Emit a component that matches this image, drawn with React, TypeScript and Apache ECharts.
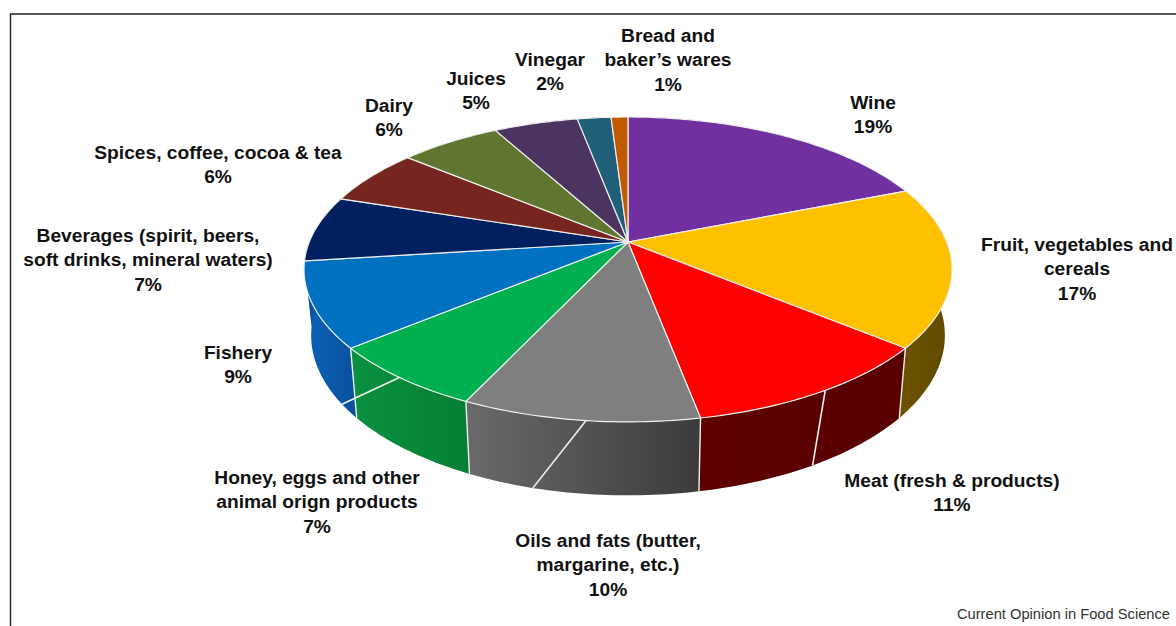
import React, { useEffect, useRef } from "react";
import * as echarts from "echarts";

// Share of each food sector, percent, clockwise from twelve o'clock.
const sectors = [
  "Wine",
  "Fruit, vegetables and\ncereals",
  "Meat (fresh & products)",
  "Oils and fats (butter,\nmargarine, etc.)",
  "Honey, eggs and other\nanimal orign products",
  "Fishery",
  "Beverages (spirit, beers,\nsoft drinks, mineral waters)",
  "Spices, coffee, cocoa & tea",
  "Dairy",
  "Juices",
  "Vinegar",
  "Bread and\nbaker\u2019s wares",
];
const shares = [19, 17, 11, 10, 7, 9, 7, 6, 6, 5, 2, 1];

const faceColors = [
  "#7030a0", "#ffc000", "#ff0000", "#7f7f7f", "#00b050", "#0070c0",
  "#002060", "#772520", "#5f7530", "#4b3460", "#215f78", "#c05a00",
];
// Left and right shade of each slice's rim.
const rimColors = [
  ["#3a1a55", "#3a1a55"], ["#6e5300", "#5f4a00"], ["#5e0000", "#580000"],
  ["#6a6a6a", "#3b3b3b"], ["#0a9040", "#057f33"], ["#0b62b8", "#0a4f9c"],
  ["#0a4f9c", "#0b5cad"], ["#401310", "#401310"], ["#36421a", "#36421a"],
  ["#2a1d36", "#2a1d36"], ["#123644", "#123644"], ["#6d3300", "#6d3300"],
];
// Label centres in page pixels, taken at the middle of the first line.
const labelCentres = [
  [873, 102], [1077, 244], [952, 480], [608, 540], [317, 477], [238, 352],
  [148, 235], [218, 152], [389, 105], [476, 78], [550, 59], [668, 35],
];
// Stray seams across the rim: angle on the top edge, angle on the bottom edge.
const rimSeams = [
  [148.4, 150],
  [186.2, 194.6],
  [218, 235.5],
];

// Perspective view of the disc.
const APEX_X = 628;
const APEX_Y = 242;
const RADIUS_X = 318.7;
const RADIUS_Y = 147.5;
const TILT = 0.18;
const BASE_SCALE_X = 0.978;
const BASE_SCALE_Y = 1.05;
const BASE_DROP = 64.5;
const LINE = "#eef0ee";

function topOffset(deg: number) {
  const t = (deg * Math.PI) / 180;
  const w = 1 + TILT * Math.cos(t);
  return [(RADIUS_X * Math.sin(t)) / w, (-RADIUS_Y * Math.cos(t)) / w];
}
function topPoint(deg: number) {
  const [x, y] = topOffset(deg);
  return [APEX_X + x, APEX_Y + y];
}
function basePoint(deg: number) {
  const [x, y] = topOffset(deg);
  return [APEX_X + x * BASE_SCALE_X, APEX_Y + BASE_DROP + y * BASE_SCALE_Y];
}
function arc(from: number, to: number, at: (d: number) => number[]) {
  const steps = Math.max(4, Math.ceil(to - from));
  const pts: number[][] = [];
  for (let i = 0; i <= steps; i++) pts.push(at(from + ((to - from) * i) / steps));
  return pts;
}

const total = shares.reduce((a, b) => a + b, 0);
function sliceRange(index: number) {
  const before = shares.slice(0, index).reduce((a, b) => a + b, 0);
  return [(before / total) * 360, ((before + shares[index]) / total) * 360];
}

function renderRim(params: any) {
  const i = params.dataIndex;
  const [from, to] = sliceRange(i);
  const [left, right] = rimColors[i];
  return {
    type: "polygon",
    shape: { points: [...arc(from, to, topPoint), ...arc(from, to, basePoint).reverse()] },
    style: {
      fill: {
        type: "linear", x: 0, y: 0, x2: 1, y2: 0,
        colorStops: [{ offset: 0, color: left }, { offset: 1, color: right }],
      },
    },
  };
}

function renderEdges(params: any) {
  const i = params.dataIndex;
  const [, to] = sliceRange(i);
  if (to < 100 || to > 240) return { type: "group", children: [] };
  const [x1, y1] = topPoint(to);
  const [x2, y2] = basePoint(to);
  return {
    type: "line",
    shape: { x1, y1, x2, y2 },
    style: { stroke: LINE, lineWidth: 1.4 },
  };
}

function renderFace(params: any) {
  const i = params.dataIndex;
  const [from, to] = sliceRange(i);
  return {
    type: "polygon",
    shape: { points: [[APEX_X, APEX_Y], ...arc(from, to, topPoint)] },
    style: { fill: faceColors[i], stroke: LINE, lineWidth: 1.2, lineJoin: "round" },
  };
}

function renderSeam(params: any, api: any) {
  const [x1, y1] = topPoint(api.value(0));
  const [x2, y2] = basePoint(api.value(1));
  return {
    type: "line",
    shape: { x1, y1, x2, y2 },
    style: { stroke: LINE, lineWidth: 1.6 },
  };
}

const LABEL_FONT = '600 19.2px "Liberation Sans", Arial, sans-serif';

export default function App() {
  const ref = useRef<HTMLDivElement>(null);
  useEffect(() => {
    document.body.style.margin = "0";
    const chart = echarts.init(ref.current!, null, { renderer: "svg" });
    const sliceData = shares.map((v, i) => ({ name: sectors[i], value: [v] }));
    chart.setOption({
      animation: false,
      backgroundColor: "#ffffff",
      series: [
        { type: "custom", coordinateSystem: "none", z: 1, silent: true, data: sliceData, renderItem: renderRim },
        { type: "custom", coordinateSystem: "none", z: 2, silent: true, data: sliceData, renderItem: renderEdges },
        { type: "custom", coordinateSystem: "none", z: 3, silent: true, data: rimSeams, renderItem: renderSeam },
        { type: "custom", coordinateSystem: "none", z: 4, silent: true, data: sliceData, renderItem: renderFace },
      ],
      graphic: [
        {
          type: "polyline",
          silent: true,
          shape: { points: [[1176, 14], [10.5, 14], [10.5, 626]] },
          style: { stroke: "#222222", lineWidth: 1.4, fill: "none" },
        },
        ...sectors.map((name, i) => ({
          type: "text",
          silent: true,
          x: labelCentres[i][0],
          y: labelCentres[i][1] - 12.25,
          style: {
            text: `${name}\n${shares[i]}%`,
            font: LABEL_FONT,
            fill: "#111111",
            align: "center",
            verticalAlign: "top",
            lineHeight: 24.5,
          },
        })),
        {
          type: "text",
          silent: true,
          x: 1170,
          y: 614,
          style: {
            text: "Current Opinion in Food Science",
            font: '14.7px "Liberation Sans", Arial, sans-serif',
            fill: "#333333",
            align: "right",
            verticalAlign: "middle",
          },
        },
      ],
    });
    return () => chart.dispose();
  }, []);
  return <div ref={ref} style={{ position: "fixed", left: 0, top: 0, width: 1176, height: 626 }} />;
}
